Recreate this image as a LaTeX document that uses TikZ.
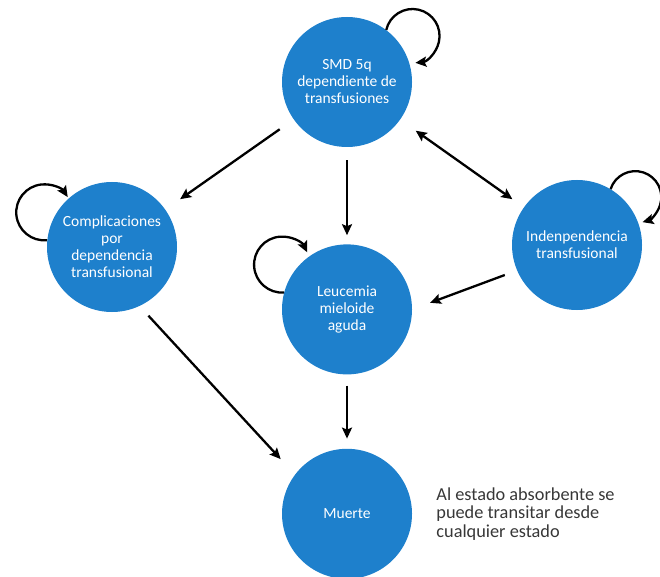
\documentclass[tikz,border=0pt]{standalone}
\usepackage{fontspec}
\setmainfont{Carlito}
\usepackage{xcolor}
\usepackage{tikz}
\usetikzlibrary{arrows.meta, positioning}
\definecolor{estadoazul}{RGB}{30,128,204}
\definecolor{notagris}{RGB}{55,55,55}

\begin{document}
\begin{tikzpicture}[
  x=1pt, y=1pt,
  estado/.style={circle, fill=estadoazul, minimum size=130pt, inner sep=0pt, align=center, text=white, font=\fontsize{15.5}{17}\selectfont},
  flecha/.style={-{Stealth[length=11pt,width=10pt,inset=2pt]}, line width=2.3pt},
  nota/.style={inner sep=0pt, align=left, text=notagris, font=\fontsize{18.3}{18.5}\selectfont}
]
  \useasboundingbox (0,0) rectangle (660,-577);
  \node[estado] (smd) at (347,-82) {SMD 5q\\dependiente de\\transfusiones};
  \node[estado] (compl) at (112,-247) {Complicaciones\\por\\dependencia\\transfusional};
  \node[estado] (indep) at (577,-245) {Indenpendencia\\transfusional};
  \node[estado, below=97pt of smd] (lma) {Leucemia\\mieloide\\aguda};
  \node[estado, below=74pt of lma] (muerte) {Muerte};
  \node[nota, right=24pt of muerte] (texto) {Al estado absorbente se\\puede transitar desde\\cualquier estado};

  \draw[flecha, shorten <=17pt, shorten >=18pt] (smd) -- (compl);
  \draw[flecha, shorten <=13pt, shorten >=9pt] (smd) -- (lma);
  \draw[flecha, {Stealth[length=11pt,width=10pt,inset=2pt]}-{Stealth[length=11pt,width=10pt,inset=2pt]}, shorten <=19pt, shorten >=14pt] (smd) -- (indep);
  \draw[flecha, shorten <=13pt, shorten >=19pt] (indep.203) -- (lma.0);
  \draw[flecha, shorten <=13pt, shorten >=21pt] (compl.-65) -- (muerte.143);
  \draw[flecha, shorten <=11pt, shorten >=10pt] (lma) -- (muerte);

  \draw[flecha] (smd.53) arc[start angle=167, end angle=-84, radius=27pt];
  \draw[flecha] (compl.174) arc[start angle=-84, end angle=-327, radius=28pt];
  \draw[flecha] (lma.165) arc[start angle=-86, end angle=-334, radius=28pt];
  \draw[flecha] (indep.59) arc[start angle=162, end angle=-74, radius=26pt];
\end{tikzpicture}
\end{document}
